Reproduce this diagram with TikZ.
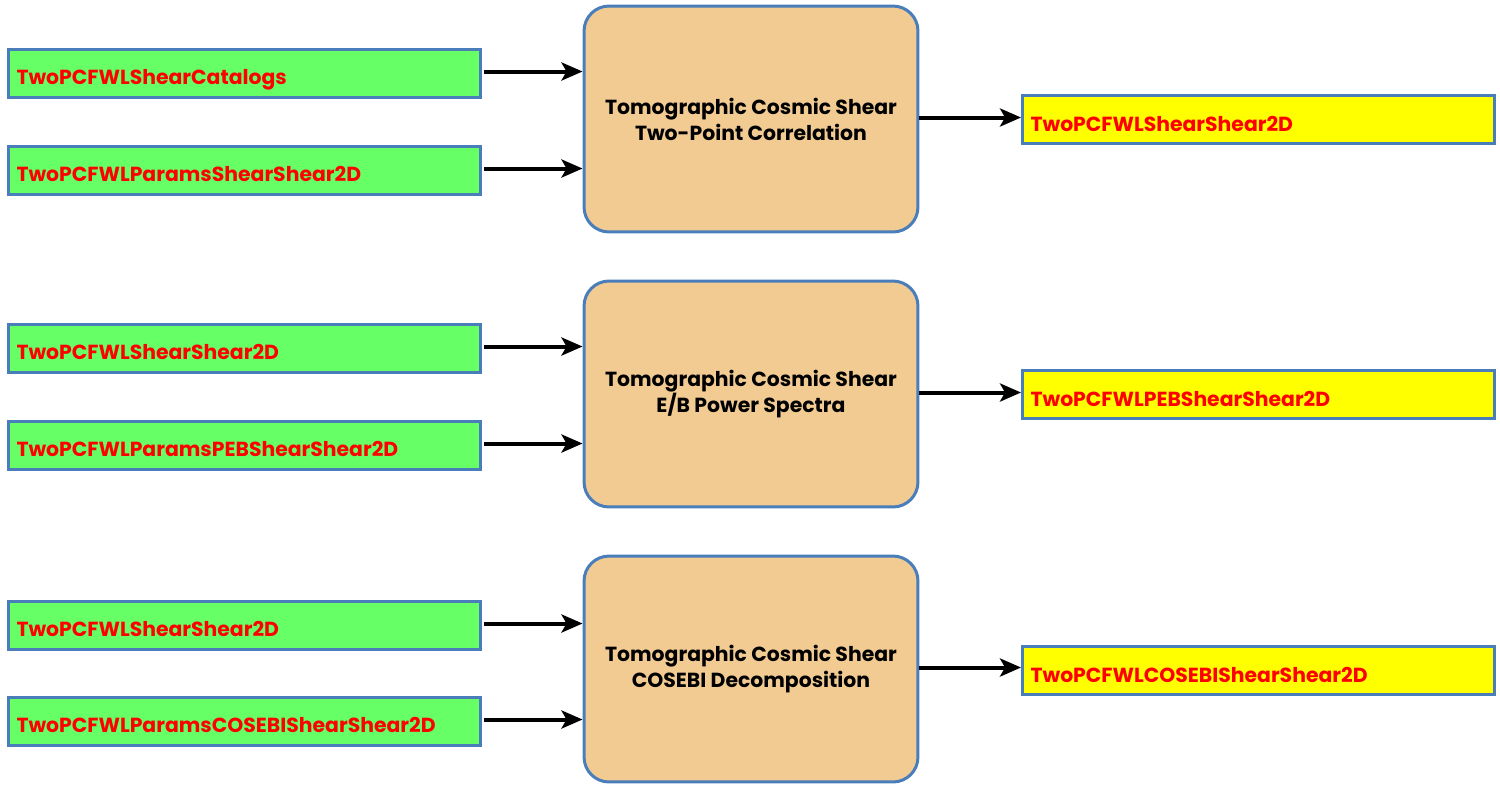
\documentclass[tikz,border=0pt]{standalone}
\usepackage{fontspec}
\setmainfont{Poppins}
\usetikzlibrary{arrows.meta}
\definecolor{bordblue}{HTML}{4A7EBB}
\definecolor{ingreen}{HTML}{66FF66}
\definecolor{outyellow}{HTML}{FFFF00}
\definecolor{proctan}{HTML}{F2CB93}
\tikzset{
  iobox/.style={draw=bordblue, line width=0.06cm, text=red, font=\bfseries\fontsize{11.6}{14.8}\selectfont,
    minimum height=0.96cm, text width=9.12cm, inner xsep=0.16cm, align=left,
    text height=0.5cm, text depth=0.04cm},
  inbox/.style={iobox, fill=ingreen},
  outbox/.style={iobox, fill=outyellow},
  procbox/.style={draw=bordblue, line width=0.06cm, fill=proctan, rounded corners=0.5cm,
    minimum width=6.68cm, minimum height=4.52cm, align=center,
    font=\bfseries\fontsize{11.6}{14.8}\selectfont},
  conn/.style={-{Stealth[length=0.42cm,width=0.36cm,inset=0.1cm]}, line width=0.08cm, black}
}
\begin{document}
\begin{tikzpicture}[x=0.02cm,y=-0.02cm]
\useasboundingbox (0,0) rectangle (1500,789);
% group 1
\node[inbox] (a1) at (244.5,73) {TwoPCFWLShearCatalogs};
\node[inbox] (a2) at (244.5,170) {TwoPCFWLParamsShearShear2D};
\node[procbox] (p1) at (751,119) {Tomographic Cosmic Shear\\Two-Point Correlation};
\node[outbox] (o1) at (1258.5,119.5) {TwoPCFWLShearShear2D};
% group 2
\node[inbox] (b1) at (244.5,348) {TwoPCFWLShearShear2D};
\node[inbox] (b2) at (244.5,445) {TwoPCFWLParamsPEBShearShear2D};
\node[procbox] (p2) at (751,394) {Tomographic Cosmic Shear\\E/B Power Spectra};
\node[outbox] (o2) at (1258.5,394.5) {TwoPCFWLPEBShearShear2D};
% group 3
\node[inbox] (c1) at (244.5,625) {TwoPCFWLShearShear2D};
\node[inbox] (c2) at (244.5,721) {TwoPCFWLParamsCOSEBIShearShear2D};
\node[procbox] (p3) at (751,669) {Tomographic Cosmic Shear\\COSEBI Decomposition};
\node[outbox] (o3) at (1258.5,670.5) {TwoPCFWLCOSEBIShearShear2D};
% connectors
\foreach \s/\t in {a1/p1,a2/p1,b1/p2,b2/p2,c1/p3,c2/p3}{
  \draw[conn] ([xshift=0.04cm,yshift=0.03cm]\s.east) -- ([yshift=0.03cm]\s.east -| \t.west);
}
\foreach \s/\t in {p1/o1,p2/o2,p3/o3}{
  \draw[conn] ([yshift=0.03cm]\s.east) -- ([yshift=0.03cm]\s.east -| \t.west);
}
\end{tikzpicture}
\end{document}
